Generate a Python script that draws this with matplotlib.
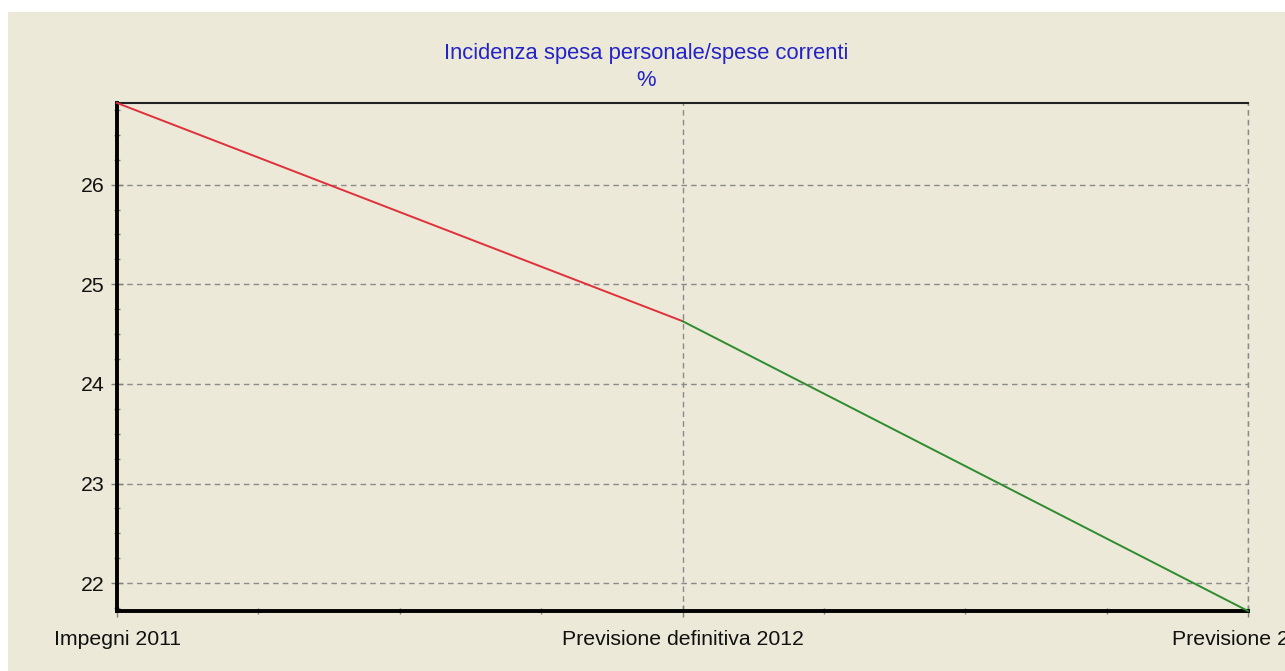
import matplotlib
matplotlib.use("Agg")
import matplotlib.pyplot as plt
from matplotlib.patches import Rectangle
from matplotlib.ticker import MultipleLocator

categories = ["Impegni 2011", "Previsione definitiva 2012", "Previsione 2013"]
values = [26.82, 24.63, 21.72]
y_ticks = [22, 23, 24, 25, 26]
title_lines = ["Incidenza spesa personale/spese correnti", "%"]

plt.rcParams["font.family"] = ["Liberation Sans", "DejaVu Sans"]

W, H = 1285, 671
fig = plt.figure(figsize=(W / 100, H / 100), dpi=100, facecolor="white")
bg = "#ECE9D8"
fig.patches.append(Rectangle((8 / W, 0), 1 - 8 / W, 1 - 12 / H, transform=fig.transFigure,
                             facecolor=bg, edgecolor="none", zorder=-10))

left, right, top, bottom = 117, 1248, 103, 611
ax = fig.add_axes([left / W, 1 - bottom / H, (right - left) / W, (bottom - top) / H])
ax.set_facecolor(bg)

x = list(range(len(categories)))
ax.plot(x[:2], values[:2], color="#E0303A", lw=1.4, zorder=3, clip_on=False)
ax.plot(x[1:], values[1:], color="#2E8B2E", lw=1.4, zorder=3, clip_on=False)

ax.set_xlim(0, 2)
ax.set_ylim(min(values), max(values))
ax.set_xticks(x)
ax.set_xticklabels(categories)
ax.xaxis.set_minor_locator(MultipleLocator(0.25))
ax.set_yticks(y_ticks)
ax.yaxis.set_minor_locator(MultipleLocator(0.25))

grid_kw = dict(color="#8A8A8A", linestyle=(0, (4, 3)), linewidth=1.0)
ax.grid(True, axis="y", **grid_kw)
ax.grid(True, axis="x", **grid_kw)

for s in ["left", "bottom"]:
    ax.spines[s].set_linewidth(2.8)
    ax.spines[s].set_color("black")
ax.spines["top"].set_linewidth(1.5)
ax.spines["top"].set_color("#222222")
ax.spines["right"].set_visible(False)
ax.axvline(2, **grid_kw, clip_on=False)

ax.tick_params(axis="both", which="major", direction="inout", length=8, width=1,
               color="#808080", labelsize=15.3, labelcolor="#111111")
ax.tick_params(axis="y", which="major", pad=5)
ax.tick_params(axis="x", which="major", pad=10)
ax.tick_params(axis="both", which="minor", direction="inout", length=4, width=1,
               color="#808080")
for lbl in ax.get_xticklabels():
    lbl.set_clip_on(False)

fig.text(646 / W, 1 - 53 / H, title_lines[0], ha="center", va="center",
         color="#2323C8", fontsize=15.8)
fig.text(646 / W, 1 - 80 / H, title_lines[1], ha="center", va="center",
         color="#2323C8", fontsize=15.8)

fig.savefig("out.png", dpi=100, facecolor="white")
